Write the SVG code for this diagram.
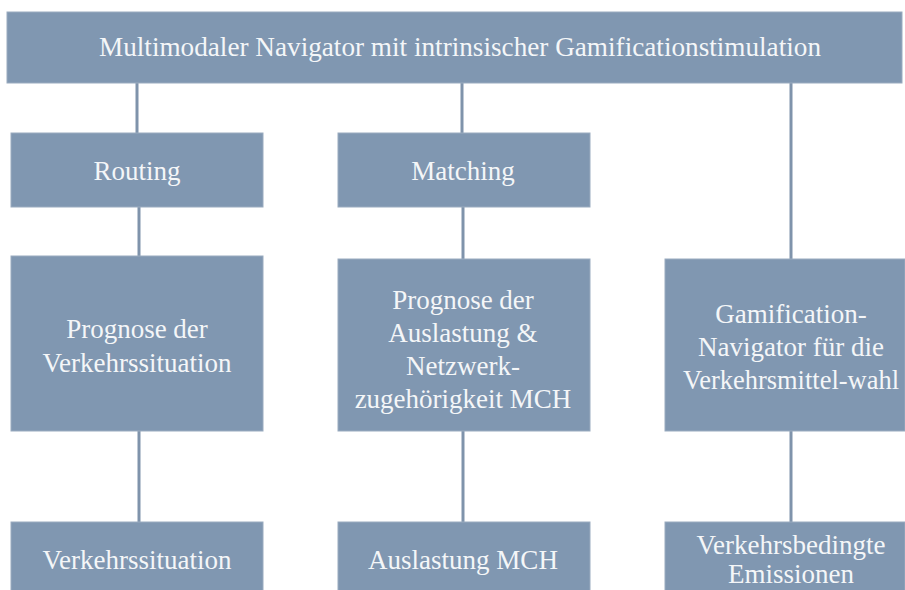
<svg xmlns="http://www.w3.org/2000/svg" width="905" height="590" viewBox="0 0 905 590">
<style>
.box{fill:#8097b1;stroke:#9aabbf;stroke-width:1}
.t{font-family:'Liberation Serif','Times New Roman',Tinos,serif;font-size:27px;fill:#f4f6f8;text-anchor:middle}
.c{stroke:#7f93ab;stroke-width:3;fill:none}
</style>
<rect width="905" height="590" fill="#ffffff"/>
<g id="connectors">
<line class="c" x1="137" y1="82" x2="137" y2="134"/>
<line class="c" x1="139" y1="207" x2="139" y2="256"/>
<line class="c" x1="139" y1="430" x2="139" y2="523"/>
<line class="c" x1="462" y1="82" x2="462" y2="134"/>
<line class="c" x1="463" y1="207" x2="463" y2="259"/>
<line class="c" x1="463" y1="430" x2="463" y2="523"/>
<line class="c" x1="791" y1="82" x2="791" y2="259"/>
<line class="c" x1="791" y1="430" x2="791" y2="523"/>
</g>
<g id="root">
<rect class="box" x="7" y="12" width="895" height="71"/>
<text class="t" x="460" y="56" textLength="722" lengthAdjust="spacingAndGlyphs">Multimodaler Navigator mit intrinsischer Gamificationstimulation</text>
</g>
<g id="routing">
<rect class="box" x="11" y="133" width="252" height="74"/>
<text class="t" x="137" y="180">Routing</text>
</g>
<g id="matching">
<rect class="box" x="338" y="133" width="252" height="74"/>
<text class="t" x="463" y="180">Matching</text>
</g>
<g id="prognose-verkehr">
<rect class="box" x="11" y="256" width="252" height="175"/>
<text class="t" x="137" y="338">Prognose der</text>
<text class="t" x="137" y="372">Verkehrssituation</text>
</g>
<g id="prognose-auslastung">
<rect class="box" x="338" y="259" width="252" height="172"/>
<text class="t" x="463" y="309">Prognose der</text>
<text class="t" x="463" y="342">Auslastung &amp;</text>
<text class="t" x="463" y="375">Netzwerk-</text>
<text class="t" x="463" y="408">zugehörigkeit MCH</text>
</g>
<g id="gamification-navigator">
<rect class="box" x="665" y="259" width="240" height="172"/>
<text class="t" x="791" y="323">Gamification-</text>
<text class="t" x="791" y="356">Navigator für die</text>
<text class="t" x="791" y="389" textLength="216" lengthAdjust="spacingAndGlyphs">Verkehrsmittel-wahl</text>
</g>
<g id="verkehrssituation">
<rect class="box" x="11" y="522" width="252" height="72"/>
<text class="t" x="137" y="569">Verkehrssituation</text>
</g>
<g id="auslastung">
<rect class="box" x="338" y="522" width="252" height="72"/>
<text class="t" x="463" y="569">Auslastung MCH</text>
</g>
<g id="emissionen">
<rect class="box" x="665" y="522" width="240" height="72"/>
<text class="t" x="791" y="554">Verkehrsbedingte</text>
<text class="t" x="791" y="583">Emissionen</text>
</g>
</svg>
